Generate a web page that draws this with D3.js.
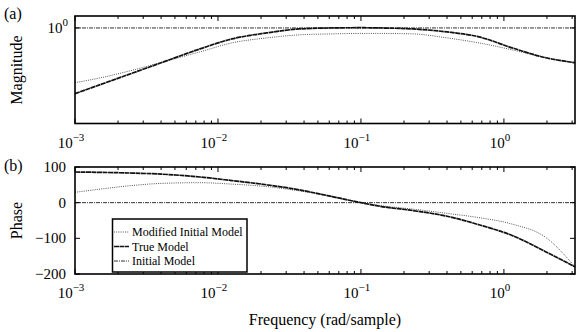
<!DOCTYPE html>
<html><head><meta charset="utf-8">
<script src="https://cdn.jsdelivr.net/npm/d3@7"></script>
<style>body{margin:0;background:#fff}svg{display:block}</style>
</head><body><svg id="c" width="576" height="332" font-family="'Liberation Serif', 'Times New Roman', serif"></svg>
<script>
const freq = [0.001,0.0015,0.0025,0.004,0.0075,0.0125,0.022,0.037,0.063,0.1,0.135,0.23,0.4,0.67,1.14,1.97,Math.PI];
const magTrue     = [0.453,0.505,0.579,0.657,0.777,0.876,0.942,0.988,1.0,1.003,1.0,0.988,0.953,0.898,0.787,0.698,0.658];
const magModified = [0.517,0.548,0.60,0.66,0.750,0.835,0.887,0.920,0.931,0.936,0.936,0.931,0.887,0.835,0.768,0.698,0.655];
const magInitial  = [1,1,1,1,1,1,1,1,1,1,1,1,1,1,1,1,1];
const phTrue      = [86,85,83,80,72,62,50,36,17,0,-10,-22,-38,-62,-92,-138,-180];
const phModified  = [29,38,48,54,56,52,45,33,17,0,-8,-18,-30,-42,-60,-98,-180];
const phInitial   = [0,0,0,0,0,0,0,0,0,0,0,0,0,0,0,0,0];
const xTickVals = [1e-3,1e-2,1e-1,1];
const xTickLabels = ["-3","-2","-1","0"];
const phTicks = [100,0,-100,-200];
const legendLabels = ["Modified Initial Model","True Model","Initial Model"];

const svg = d3.select("#c");
const L = 75, R = 575;
const x = d3.scaleLog().domain([1e-3, Math.PI]).range([L, R]);
const yMag = d3.scaleLog().domain([Math.pow(10,-0.5), Math.pow(10,0.0625)]).range([123.5, 16]);
const yPh = d3.scaleLinear().domain([-200, 100]).range([274, 167]);

const styles = {
  mod: {stroke:"#555", w:1, dash:"1,1.2"},
  tru: {stroke:"#111", w:1.7, dash:"5,0.5"},
  ini: {stroke:"#333", w:1, dash:"4,1,1,1"}
};

function minorVals(){
  const v=[]; for(let e=-3;e<=0;e++){for(let m=1;m<=9;m++){const f=m*Math.pow(10,e); if(f<=Math.PI+1e-9) v.push(f);}} return v;
}

function panel(y, top, bottom, series, yTicksFn){
  const g = svg.append("g");
  series.forEach(s=>{
    const line = d3.line().x((d,i)=>x(freq[i])).y(d=>y(d)).curve(d3.curveMonotoneX);
    g.append("path").attr("d", line(s.data)).attr("fill","none")
      .attr("stroke", s.st.stroke).attr("stroke-width", s.st.w).attr("stroke-dasharray", s.st.dash);
  });
  minorVals().forEach(f=>{
    const major = Math.abs(Math.log10(f) - Math.round(Math.log10(f)))<1e-9;
    const len = major?5:3;
    g.append("line").attr("x1",x(f)).attr("x2",x(f)).attr("y1",bottom).attr("y2",bottom-len).attr("stroke","#000").attr("stroke-width",1);
    g.append("line").attr("x1",x(f)).attr("x2",x(f)).attr("y1",top).attr("y2",top+len).attr("stroke","#000").attr("stroke-width",1);
  });
  yTicksFn(g);
  g.append("rect").attr("x",L).attr("y",top).attr("width",R-L).attr("height",bottom-top)
    .attr("fill","none").attr("stroke","#000").attr("stroke-width",1.6);
  xTickVals.forEach((v,i)=>{
    const t = g.append("text").attr("x",x(v)-4).attr("y",bottom+24).attr("text-anchor","middle").style("font-size","15px");
    t.append("tspan").text("10");
    t.append("tspan").attr("dy",-7).style("font-size","11px").text(xTickLabels[i].replace("-","\u2212"));
  });
}

panel(yMag, 16, 123.5, [
  {data:magInitial, st:styles.ini},
  {data:magModified, st:styles.mod},
  {data:magTrue, st:styles.tru}
], g=>{
  const yy = yMag(1);
  g.append("line").attr("x1",L).attr("x2",L+5).attr("y1",yy).attr("y2",yy).attr("stroke","#000");
  g.append("line").attr("x1",R).attr("x2",R-5).attr("y1",yy).attr("y2",yy).attr("stroke","#000");
  const t = g.append("text").attr("x",68).attr("y",yy+5).attr("text-anchor","end").style("font-size","15px");
  t.append("tspan").text("10");
  t.append("tspan").attr("dy",-7).style("font-size","11px").text("0");
});

panel(yPh, 167, 274, [
  {data:phInitial, st:styles.ini},
  {data:phModified, st:styles.mod},
  {data:phTrue, st:styles.tru}
], g=>{
  phTicks.forEach(v=>{
    const yy = yPh(v);
    g.append("line").attr("x1",L).attr("x2",L+5).attr("y1",yy).attr("y2",yy).attr("stroke","#000");
    g.append("line").attr("x1",R).attr("x2",R-5).attr("y1",yy).attr("y2",yy).attr("stroke","#000");
    g.append("text").attr("x",66).attr("y",yy+5).attr("text-anchor","end").style("font-size","15px")
      .text(String(v).replace("-","\u2212"));
  });
});

const lg = svg.append("g");
lg.append("rect").attr("x",112.5).attr("y",219).attr("width",134.5).attr("height",53).attr("fill","#fff").attr("stroke","#000").attr("stroke-width",1.5);
const lst = [styles.mod, styles.tru, styles.ini];
legendLabels.forEach((lab,i)=>{
  const yy = 232 + i*14.5;
  lg.append("line").attr("x1",114).attr("x2",129).attr("y1",yy).attr("y2",yy)
    .attr("stroke",lst[i].stroke).attr("stroke-width",lst[i].w).attr("stroke-dasharray",lst[i].dash);
  lg.append("text").attr("x",132).attr("y",yy+4).style("font-size","12px").text(lab);
});

svg.append("text").attr("x",4).attr("y",19).style("font-size","16px").text("(a)");
svg.append("text").attr("x",4).attr("y",171).style("font-size","16px").text("(b)");
svg.append("text").attr("transform","translate(22,70) rotate(-90)").attr("text-anchor","middle").style("font-size","16px").text("Magnitude");
svg.append("text").attr("transform","translate(22,220.5) rotate(-90)").attr("text-anchor","middle").style("font-size","16px").text("Phase");
svg.append("text").attr("x",(L+R)/2).attr("y",325).attr("text-anchor","middle").style("font-size","16px").text("Frequency (rad/sample)");
</script></body></html>
